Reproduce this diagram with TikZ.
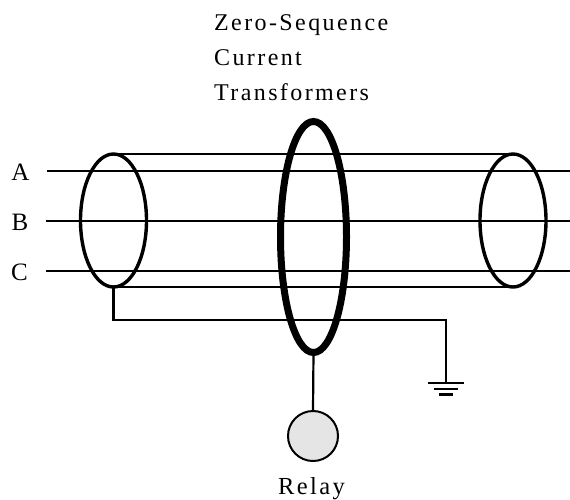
\documentclass[tikz,border=0pt]{standalone}
\usepackage{fontspec}
\setmainfont[LetterSpace=10]{Liberation Serif}
\usetikzlibrary{shapes.geometric}
\tikzset{
	wire/.style={line width=2.2pt},
	ringct/.style={draw, ellipse, inner sep=0pt, outer sep=0pt, line width=3.4pt, minimum width=66pt, minimum height=133pt},
	phase/.style={font=\fontsize{25}{35}\selectfont, inner sep=0pt, anchor=base},
}

\begin{document}
\begin{tikzpicture}[x=1pt, y=-1pt]
				\useasboundingbox (0, 0) rectangle (570, 499);
				\node[phase] (A)at(20.5, 180) {A};
				\node[phase] (B)at(20, 230) {B};
				\node[phase] (C)at(19.5, 280) {C};
				\node[font=\fontsize{24}{35}\selectfont, inner sep=0pt, anchor=base west, align=left] (title)at(214, 100) {Zero-Sequence\\Current\\Transformers};
				\node[ringct] (CTL)at(113.5, 220.5) {};
				\node[ringct, line width=7pt, minimum width=66pt, minimum height=231pt] (CTM)at(313.5, 237) {};
				\node[ringct] (CTR)at(513, 220.5) {};
				\node[draw, circle, fill=gray!20, inner sep=0pt, outer sep=0pt, line width=2pt, minimum size=50pt] (relay)at(313, 436) {};
				\node[font=\fontsize{24.5}{35}\selectfont, inner sep=0pt, anchor=base] (relaytxt)at(311.5, 494) {Relay};
				\coordinate (Aa) at (47, 171);
				\coordinate (Ab) at (570, 171);
				\coordinate (Ba) at (46, 221);
				\coordinate (Bb) at (570, 221);
				\coordinate (Ca) at (46, 271);
				\coordinate (Cb) at (570, 271);
				\coordinate (corner) at (113.5, 320);
				\coordinate (drop) at (446, 320);
				\coordinate (earth) at (446, 383);
				\coordinate (e1a) at (428, 383);
				\coordinate (e1b) at (464, 383);
				\coordinate (e2a) at (434, 389);
				\coordinate (e2b) at (458, 389);
				\coordinate (e3a) at (439, 394.5);
				\coordinate (e3b) at (453, 394.5);
				\draw[wire] (Aa) -- (Ab);
				\draw[wire] (Ba) -- (Bb);
				\draw[wire] (Ca) -- (Cb);
				\draw[wire] (CTL.north) -- (CTR.north);
				\draw[wire] (CTL.south) -- (CTR.south);
				\draw[wire] (CTL.south) -- (corner) -- (drop) -- (earth);
				\draw[wire] (CTM.south) -- (relay.north);
				\draw[wire] (e1a) -- (e1b);
				\draw[wire] (e2a) -- (e2b);
				\draw[wire] (e3a) -- (e3b);
			\end{tikzpicture}
\end{document}
